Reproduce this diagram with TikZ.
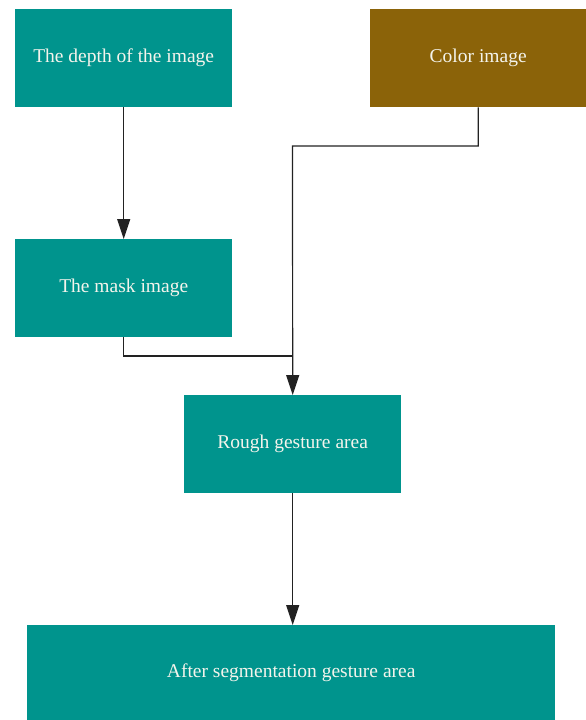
\documentclass[tikz,border=0pt]{standalone}
\usepackage{fontspec}
\setmainfont{Liberation Serif}
\usetikzlibrary{arrows.meta}
\definecolor{tealbox}{HTML}{00948D}
\definecolor{brownbox}{HTML}{8B6309}
\definecolor{boxtext}{HTML}{F4F4EC}
\definecolor{linec}{HTML}{222222}
\begin{document}
\begin{tikzpicture}[x=1pt,y=-1pt,
  box/.style={draw=none,fill=tealbox,text=boxtext,minimum height=98pt,inner sep=0pt,font=\fontsize{19.5}{22}\selectfont,anchor=north west},
  conn/.style={draw=linec,line width=1.2pt},
  arr/.style={conn,-{Triangle[width=13pt,length=20pt]}}]
\useasboundingbox (0,0) rectangle (586,720);
\node[box,minimum width=217pt] (depth) at (15,9) {The depth of the image};
\node[box,fill=brownbox,minimum width=216pt] (color) at (370,9) {Color image};
\node[box,minimum width=217pt] (mask) at (15,239) {The mask image};
\node[box,minimum width=217pt] (rough) at (184,395) {Rough gesture area};
\node[box,minimum width=528pt,minimum height=96pt] (after) at (27,625) {After segmentation gesture area};
\coordinate (j1) at (292.5,146);
\coordinate (j2) at (292.5,356);
\draw[arr] (depth.south) -- (mask.north);
\draw[arr] (color.south) |- (j1) -- (rough.north);
\draw[conn] (mask.south) |- (j2);
\draw[arr] (rough.south) -- (rough.south |- after.north);
\end{tikzpicture}
\end{document}
